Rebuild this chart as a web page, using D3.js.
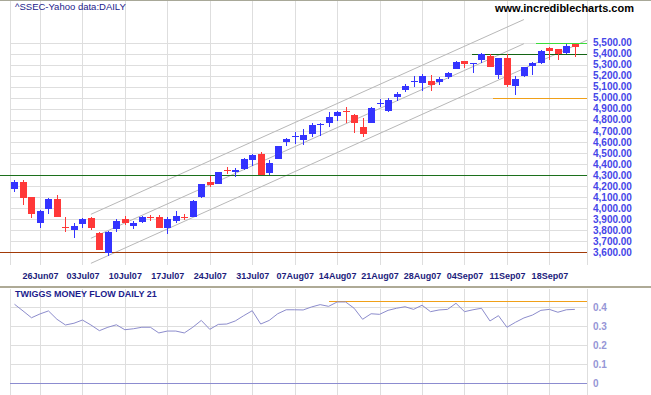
<!DOCTYPE html>
<meta charset="utf-8">

<script src="https://d3js.org/d3.v7.min.js"></script>

<style>
  body { margin: 0; background: #fff; }
  text { font-family: "Liberation Sans", Arial, sans-serif; }
</style>

<svg id="chart" width="651" height="395"></svg>

<script>

    // trading days shown on the chart
    var dates = ["21Jun07","22Jun07","25Jun07","26Jun07","27Jun07","28Jun07","29Jun07",
        "02Jul07","03Jul07","04Jul07","05Jul07","06Jul07","09Jul07","10Jul07","11Jul07","12Jul07","13Jul07",
        "16Jul07","17Jul07","18Jul07","19Jul07","20Jul07","23Jul07","24Jul07","25Jul07","26Jul07","27Jul07",
        "30Jul07","31Jul07","01Aug07","02Aug07","03Aug07","06Aug07","07Aug07","08Aug07","09Aug07","10Aug07",
        "13Aug07","14Aug07","15Aug07","16Aug07","17Aug07","20Aug07","21Aug07","22Aug07","23Aug07","24Aug07",
        "27Aug07","28Aug07","29Aug07","30Aug07","31Aug07","03Sep07","04Sep07","05Sep07","06Sep07","07Sep07",
        "10Sep07","11Sep07","12Sep07","13Sep07","14Sep07","17Sep07","18Sep07","19Sep07","20Sep07","21Sep07"];

    // ^SSEC daily prices
    var open  = [4176,4237,4101,3868,3992,4083,3828,3805,3859,3911,3778,3596,3814,3899,3841,3877,3919,
                 3920,3814,3884,3919,3922,4095,4237,4219,4347,4325,4355,4436,4490,4321,4448,4599,4644,
                 4617,4669,4753,4774,4832,4880,4844,4732,4774,4948,4883,5009,5073,5142,5134,5152,5145,
                 5188,5263,5330,5299,5345,5378,5209,5360,5100,5197,5290,5315,5450,5441,5405,5487];
    var high  = [4255,4255,4105,3983,4095,4119,3920,3865,3908,3920,3787,3790,3899,3926,3884,3931,3935,
                 3935,3920,3971,3944,4070,4219,4291,4330,4370,4364,4454,4488,4511,4436,4565,4633,4690,
                 4717,4774,4768,4871,4877,4913,4848,4814,4913,4988,4998,5055,5124,5194,5215,5206,5188,
                 5236,5330,5332,5318,5402,5399,5362,5396,5200,5281,5321,5435,5460,5445,5487,5490];
    var low   = [4149,4028,3911,3820,3947,3918,3787,3732,3823,3802,3620,3566,3787,3850,3808,3865,3886,
                 3823,3769,3868,3893,3918,4090,4194,4215,4309,4279,4345,4382,4297,4297,4446,4566,4581,
                 4575,4647,4651,4738,4792,4768,4683,4647,4768,4919,4874,4970,5055,5097,5064,5064,5118,
                 5167,5258,5272,5227,5318,5275,5170,5097,5025,5185,5206,5308,5345,5345,5399,5369];
    var close = [4237,4095,3950,3974,4083,3922,3824,3838,3904,3823,3624,3787,3884,3859,3865,3922,3915,
                 3823,3899,3926,3915,4065,4216,4212,4327,4343,4345,4448,4479,4300,4409,4563,4626,4653,
                 4662,4753,4762,4826,4871,4868,4774,4669,4907,4955,4980,5034,5106,5149,5197,5115,5170,
                 5227,5324,5299,5312,5399,5279,5360,5113,5167,5276,5315,5426,5426,5396,5469,5460];

    // Twiggs Money Flow (21 day)
    var tmf = [0.416,0.381,0.345,0.365,0.381,0.337,0.307,0.316,0.333,0.307,0.277,0.295,0.308,0.282,
               0.287,0.295,0.295,0.265,0.275,0.275,0.265,0.295,0.331,0.284,0.310,0.312,0.328,0.356,
               0.382,0.312,0.331,0.366,0.387,0.387,0.386,0.402,0.414,0.405,0.428,0.428,0.395,0.337,
               0.366,0.363,0.384,0.395,0.403,0.389,0.411,0.377,0.386,0.389,0.421,0.377,0.387,0.395,
               0.328,0.356,0.295,0.321,0.344,0.359,0.384,0.389,0.374,0.387,0.389];

    // axis labels
    var dateTicks = ["26Jun07","03Jul07","10Jul07","17Jul07","24Jul07","31Jul07","07Aug07",
                     "14Aug07","21Aug07","28Aug07","04Sep07","11Sep07","18Sep07"];
    var priceTicks = [3600,3700,3800,3900,4000,4100,4200,4300,4400,4500,4600,4700,4800,4900,5000,
                      5100,5200,5300,5400,5500];
    var tmfTicks = [0, 0.1, 0.2, 0.3, 0.4];

    // trend channel: [day index, price]
    var channelUpper  = [[9, 3944], [60, 5708]];
    var channelMiddle = [[9, 3727], [60, 5489]];
    var channelLower  = [[9, 3500], [67.43, 5521]];

    // horizontal support / resistance lines
    var levelPrice = [4300, 3600, 5400, 5500, 5000];
    var levelFrom  = [-1.7, -1.7, 53.9, 61.4, 56.3];
    var tmfLevel = 0.432, tmfLevelFrom = 37;

    var svg = d3.select("#chart");
    var left = 10, right = 587;

    var x  = d3.scaleLinear().domain([-0.53, 67.43]).range([left, right]);
    var y  = d3.scaleLinear().domain([3600, 5500]).range([252.3, 42.5]);
    var y2 = d3.scaleLinear().domain([0, 0.4]).range([383.3, 307.3]);
    var px = function(v){ return Math.round(v) + 0.5; };
    var tickIdx = dateTicks.map(function(d){ return dates.indexOf(d) });

    // frame line at the very top
    svg.append("line").attr("x1", 0).attr("x2", 651).attr("y1", 0.5).attr("y2", 0.5)
        .attr("stroke", "#a8a898");

    // ---- price panel grid
    var grid = svg.append("g").attr("stroke", "#dedede").attr("shape-rendering", "crispEdges");
    grid.selectAll("line.h").data(priceTicks).enter().append("line")
        .attr("x1", left).attr("x2", right)
        .attr("y1", function(d){ return px(y(d)) }).attr("y2", function(d){ return px(y(d)) });
    grid.selectAll("line.v").data(tickIdx.concat([-0.53, 67.43])).enter().append("line")
        .attr("x1", function(d){ return px(x(d)) }).attr("x2", function(d){ return px(x(d)) })
        .attr("y1", 1).attr("y2", 265);

    // ---- money flow panel grid
    var grid2 = svg.append("g").attr("stroke", "#dedede").attr("shape-rendering", "crispEdges");
    grid2.selectAll("line.h").data(tmfTicks.slice(1)).enter().append("line")
        .attr("x1", left).attr("x2", right)
        .attr("y1", function(d){ return px(y2(d)) }).attr("y2", function(d){ return px(y2(d)) });
    grid2.selectAll("line.v").data(tickIdx.concat([-0.53, 67.43])).enter().append("line")
        .attr("x1", function(d){ return px(x(d)) }).attr("x2", function(d){ return px(x(d)) })
        .attr("y1", 289).attr("y2", 395);

    // panel separator
    svg.append("line").attr("x1", 0).attr("x2", 651).attr("y1", 287).attr("y2", 287)
        .attr("stroke", "#aeaa96").attr("stroke-width", 2);

    // ---- trend channel
    var priceLine = d3.line()
        .x(function(d){ return x(d[0]) })
        .y(function(d){ return y(d[1]) });
    svg.append("g").selectAll("path")
        .data([channelUpper, channelMiddle, channelLower])
        .enter().append("path")
          .attr("d", priceLine)
          .attr("fill", "none")
          .attr("stroke", "#b8b8b8")
          .attr("stroke-width", 1);

    // ---- horizontal levels
    var levelColor = ["#1c701c", "#a23a08", "#146414", "#3cdc3c", "#f0a018"];
    svg.append("g").attr("shape-rendering", "crispEdges").selectAll("line")
        .data(levelPrice)
        .enter().append("line")
          .attr("x1", function(d, i){ return x(levelFrom[i]) })
          .attr("x2", right)
          .attr("y1", function(d){ return px(y(d)) })
          .attr("y2", function(d){ return px(y(d)) })
          .attr("stroke", function(d, i){ return levelColor[i] })
          .attr("stroke-width", 1.3);

    // ---- candles
    var up = "#3434ff", down = "#ff3838";
    var candle = svg.append("g").selectAll("g")
        .data(dates)
        .enter().append("g");
    candle.append("line")
        .attr("x1", function(d, i){ return px(x(i)) })
        .attr("x2", function(d, i){ return px(x(i)) })
        .attr("y1", function(d, i){ return y(high[i]) })
        .attr("y2", function(d, i){ return y(low[i]) })
        .attr("stroke", function(d, i){ return close[i] >= open[i] ? up : down })
        .attr("shape-rendering", "crispEdges");
    candle.append("rect")
        .attr("x", function(d, i){ return Math.round(x(i)) - 3 })
        .attr("width", 7)
        .attr("y", function(d, i){ return Math.round(y(Math.max(open[i], close[i]))) })
        .attr("height", function(d, i){ return Math.max(1, Math.round(Math.abs(y(open[i]) - y(close[i])))) })
        .attr("fill", function(d, i){ return close[i] >= open[i] ? up : down });

    // ---- money flow
    svg.append("line")
        .attr("x1", left).attr("x2", right)
        .attr("y1", px(y2(0))).attr("y2", px(y2(0)))
        .attr("stroke", "#8c8cd0").attr("stroke-width", 1.3)
        .attr("shape-rendering", "crispEdges");
    svg.append("line")
        .attr("x1", x(tmfLevelFrom)).attr("x2", right)
        .attr("y1", px(y2(tmfLevel))).attr("y2", px(y2(tmfLevel)))
        .attr("stroke", "#f0a018").attr("stroke-width", 1.3)
        .attr("shape-rendering", "crispEdges");
    svg.append("path")
        .datum(tmf)
        .attr("fill", "none")
        .attr("stroke", "#8c8ccc")
        .attr("stroke-width", 1)
        .attr("d", d3.line()
            .x(function(d, i){ return x(i) })
            .y(function(d){ return y2(d) }));

    // ---- axes
    svg.append("g")
        .attr("transform", "translate(590,0)")
        .call(d3.axisRight(y).tickValues(priceTicks).tickFormat(d3.format(",.2f")).tickSize(0))
        .call(function(g){ g.select(".domain").remove() })
        .selectAll("text")
          .attr("fill", "#4646e8")
          .style("font-size", "10px").style("font-weight", "bold");

    svg.append("g")
        .attr("transform", "translate(590,0)")
        .call(d3.axisRight(y2).tickValues(tmfTicks).tickFormat(d3.format("")).tickSize(0))
        .call(function(g){ g.select(".domain").remove() })
        .selectAll("text")
          .attr("fill", "#9696d6")
          .style("font-size", "10px").style("font-weight", "bold");

    svg.append("g")
        .attr("transform", "translate(0,270)")
        .call(d3.axisBottom(x).tickValues(tickIdx).tickFormat(function(i){ return dates[i] }).tickSize(0))
        .call(function(g){ g.select(".domain").remove() })
        .selectAll("text")
          .attr("fill", "#1c1c7c")
          .style("font-size", "9px").style("font-weight", "bold");

    // ---- titles
    svg.append("text").attr("x", 15).attr("y", 10)
        .attr("fill", "#1c1c8c").style("font-size", "9.5px")
        .text("^SSEC-Yahoo data:DAILY");
    svg.append("text").attr("x", 495).attr("y", 12)
        .attr("fill", "#000").style("font-size", "11px").style("font-weight", "bold")
        .text("www.incrediblecharts.com");
    svg.append("text").attr("x", 15).attr("y", 297)
        .attr("fill", "#1c1c8c").style("font-size", "9px").style("font-weight", "bold")
        .text("TWIGGS MONEY FLOW DAILY 21");

</script>
